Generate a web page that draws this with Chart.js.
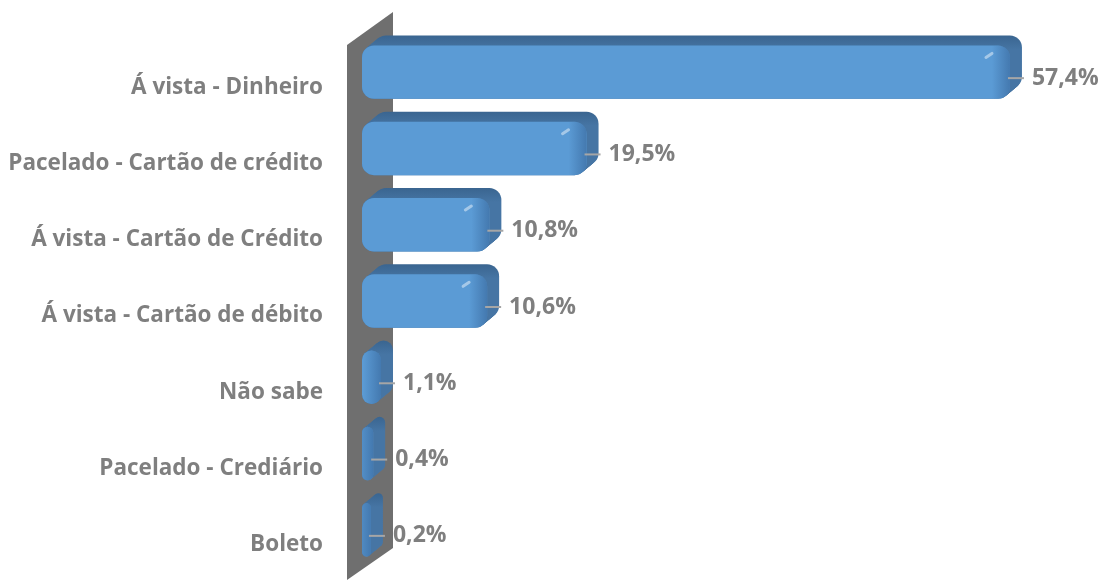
<!DOCTYPE html>
<html>
<head>
<meta charset="utf-8">
<script src="https://cdn.jsdelivr.net/npm/chart.js@4.4.0/dist/chart.umd.min.js"></script>
<style>
  html, body { margin: 0; padding: 0; background: #fff; }
  #wrap { width: 1104px; height: 582px; }
</style>
</head>
<body>
<div id="wrap"><canvas id="chart"></canvas></div>
<script>
const categories = [
  'Á vista - Dinheiro',
  'Pacelado - Cartão de crédito',
  'Á vista - Cartão de Crédito',
  'Á vista - Cartão de débito',
  'Não sabe',
  'Pacelado - Crediário',
  'Boleto'
];
const shares = [57.4, 19.5, 10.8, 10.6, 1.1, 0.4, 0.2];
const valueLabels = shares.map(v => v.toFixed(1).replace('.', ',') + '%');

const FONT  = "'Open Sans', sans-serif";
const GREY  = '#7f7f7f';
const BLUE  = '#5b9bd5';
const DARK  = '#3f6d9c';
const DEPTH = { dx: 12, dy: -10 };
const RADIUS = 12;
const FLOOR = -0.6;   // bars grow out of the wall, a little behind zero

function barBox(bar) {
  const p = bar.getProps(['x', 'y', 'base', 'height'], true);
  return { left: p.base, right: p.x, top: p.y - p.height / 2, h: p.height, y: p.y };
}

// side wall, value labels (behind the wall) and the extruded depth of each bar
const depth3d = {
  id: 'depth3d',
  beforeDatasetsDraw(chart) {
    const { ctx, chartArea: a } = chart;
    const bars = chart.getDatasetMeta(0).data.map(barBox);
    ctx.save();

    ctx.font = `700 23px ${FONT}`;
    ctx.fillStyle = GREY;
    ctx.textBaseline = 'middle';
    bars.forEach((b, i) => ctx.fillText(valueLabels[i], b.right + 22, b.y + 6));

    ctx.beginPath();
    ctx.moveTo(a.left - 15, a.top + 11);
    ctx.lineTo(a.left + 31, a.top - 22);
    ctx.lineTo(a.left + 31, a.bottom - 20);
    ctx.lineTo(a.left - 15, a.bottom + 12);
    ctx.closePath();
    ctx.fillStyle = '#6f6f6f';
    ctx.fill();

    bars.forEach(b => {
      const w = b.right - b.left;
      const g = ctx.createLinearGradient(0, b.top + DEPTH.dy, 0, b.top + 4);
      g.addColorStop(0, '#3a6590');
      g.addColorStop(1, '#4675a4');
      ctx.fillStyle = g;
      for (let s = 0; s <= 12; s++) {
        const t = s / 12;
        ctx.beginPath();
        ctx.roundRect(b.left + DEPTH.dx * t, b.top + DEPTH.dy * t, w, b.h, RADIUS);
        ctx.fill();
      }
    });
    ctx.restore();
  },
  afterDatasetsDraw(chart) {
    const { ctx } = chart;
    const bars = chart.getDatasetMeta(0).data.map(barBox);
    ctx.save();
    bars.forEach(b => {
      // darker rounding at the end of the front face
      const w = b.right - b.left;
      ctx.save();
      ctx.beginPath();
      ctx.roundRect(b.left, b.top, w, b.h, RADIUS);
      ctx.clip();
      const g = ctx.createLinearGradient(b.right - 18, 0, b.right, 0);
      g.addColorStop(0, 'rgba(40,80,130,0)');
      g.addColorStop(1, 'rgba(40,80,130,0.45)');
      ctx.fillStyle = g;
      ctx.fillRect(b.right - 18, b.top, 18, b.h);
      if (w > 100) {
        ctx.strokeStyle = 'rgba(255,255,255,0.45)';
        ctx.lineWidth = 3;
        ctx.lineCap = 'round';
        ctx.beginPath();
        ctx.moveTo(b.right - 24, b.top + 12);
        ctx.lineTo(b.right - 18, b.top + 8);
        ctx.stroke();
      }
      ctx.restore();

      ctx.strokeStyle = '#a6a6a6';
      ctx.lineWidth = 2;
      ctx.lineCap = 'butt';
      ctx.beginPath();
      ctx.moveTo(b.right - 2, b.y + 6);
      ctx.lineTo(b.right + 14, b.y + 6);
      ctx.stroke();
    });
    ctx.restore();
  }
};

new Chart(document.getElementById('chart'), {
  type: 'bar',
  data: {
    labels: categories,
    datasets: [{
      data: shares,
      base: FLOOR,
      backgroundColor: BLUE,
      borderRadius: RADIUS,
      borderSkipped: false,
      barPercentage: 0.7,
      categoryPercentage: 1
    }]
  },
  options: {
    indexAxis: 'y',
    responsive: true,
    maintainAspectRatio: false,
    animation: false,
    layout: { padding: { top: 34, bottom: 14, left: 0, right: 65 } },
    plugins: { legend: { display: false }, tooltip: { enabled: false } },
    scales: {
      x: { display: false, min: FLOOR, max: 60 },
      y: {
        grid: { display: false, drawTicks: false },
        border: { display: false },
        ticks: {
          color: GREY,
          font: { family: FONT, size: 22.5, weight: '700' },
          padding: 39,
          labelOffset: 15
        },
        afterFit(scale) {
          scale.width = 362;
          scale.paddingTop = 0;
          scale.paddingBottom = 0;
        }
      }
    }
  },
  plugins: [depth3d]
});
</script>
</body>
</html>
